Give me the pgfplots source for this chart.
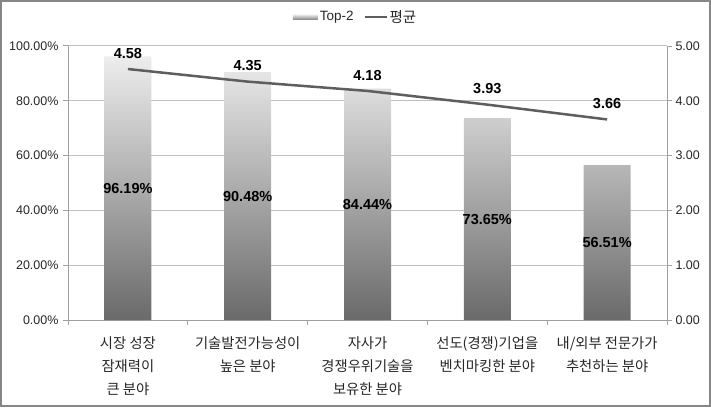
\documentclass[border=0pt]{standalone}
\usepackage{fontspec}
\setmainfont{Liberation Sans}
\newfontfamily\kr{Noto Sans CJK KR}
\usepackage{pgfplots}
\pgfplotsset{compat=1.18}
\definecolor{framegray}{HTML}{868686}
\definecolor{gridgray}{HTML}{C0C0C0}
\definecolor{axisgray}{HTML}{A0A0A0}
\definecolor{linegray}{HTML}{5E5E5E}
\definecolor{barbot}{HTML}{6A6A6A}
\definecolor{bartop}{HTML}{EDEDED}
\definecolor{txt}{HTML}{262626}
\begin{document}
\begin{tikzpicture}
\draw[framegray, line width=2pt] (1pt,1pt) rectangle (710pt,406pt);
\begin{axis}[
  at={(68pt,87pt)}, anchor=south west, scale only axis,
  width=599pt, height=274pt,
  xmin=-0.5, xmax=4.5, ymin=0, ymax=100,
  axis x line*=bottom, axis y line*=left,
  axis line style={axisgray, line width=1pt, -},
  ytick={0,20,...,100},
  /pgf/number format/assume math mode=true,
  yticklabel={\pgfmathprintnumber[fixed,fixed zerofill,precision=2]{\tick}\%},
  ymajorgrids, grid style={gridgray, line width=1pt},
  tick align=outside, major tick length=5pt,
  tick style={axisgray, line width=1pt},
  yticklabel style={font=\fontsize{12.5}{14}\selectfont, text=txt, xshift=-1pt},
  xtick={-0.5,0.5,...,4.5},
  xticklabels={},
  extra x ticks={0,...,4},
  extra x tick labels={{시장 성장\\잠재력이\\큰 분야},{기술발전가능성이\\높은 분야},{자사가\\경쟁우위기술을\\보유한 분야},{선도(경쟁)기업을\\벤치마킹한 분야},{내/외부 전문가가\\추천하는 분야}},
  extra x tick style={major tick length=0pt,
    xticklabel style={font=\kr\fontsize{14.3}{23}\selectfont, align=center, text=txt, anchor=north, yshift=-13pt}},
]
\addplot[ybar, bar width=47pt, bar shift=0pt, draw=none, bottom color=barbot, top color=bartop]
  coordinates {(0,96.19) (1,90.48) (2,84.44) (3,73.65) (4,56.51)};
\addplot[ybar, bar width=47pt, bar shift=0pt, draw=none, fill=none,
  visualization depends on=y \as \rawy,
  nodes near coords={\pgfmathprintnumber[fixed,fixed zerofill,precision=2]{\pgfplotspointmeta}\%},
  every node near coord/.append style={anchor=center, shift={(axis direction cs:0,-\rawy/2)}, font=\bfseries\fontsize{14.5}{16}\selectfont, text=black}]
  coordinates {(0,96.19) (1,90.48) (2,84.44) (3,73.65) (4,56.51)};
\end{axis}
\begin{axis}[
  at={(68pt,87pt)}, anchor=south west, scale only axis,
  width=599pt, height=274pt,
  xmin=-0.5, xmax=4.5, ymin=0, ymax=5,
  axis x line=none, axis y line*=right,
  axis line style={axisgray, line width=1pt, -},
  ytick={0,1,...,5},
  /pgf/number format/assume math mode=true,
  yticklabel={\pgfmathprintnumber[fixed,fixed zerofill,precision=2]{\tick}},
  tick align=outside, major tick length=5pt,
  tick style={axisgray, line width=1pt},
  yticklabel style={font=\fontsize{12.5}{14}\selectfont, text=txt},
  legend style={at={(0.48,1.106)}, anchor=center, draw=none, fill=none,
    legend columns=2, font=\fontsize{13.5}{15}\selectfont, text=txt,
    /tikz/every even column/.append style={column sep=8pt}},
]
\addlegendimage{legend image code/.code={\path[draw=none, bottom color=barbot!80, top color=bartop] (0pt,-2.5pt) rectangle (25pt,2.5pt);}}
\addlegendentry{Top-2}
\addlegendimage{legend image code/.code={\draw[linegray, line width=2pt] (0pt,0pt) -- (22pt,0pt);}}
\addlegendentry{\kr\fontsize{14.5}{15}\selectfont 평균}
\addplot[forget plot, linegray, line width=2.5pt, mark=none,
  nodes near coords={\pgfmathprintnumber[fixed,fixed zerofill,precision=2]{\pgfplotspointmeta}},
  every node near coord/.append style={anchor=south, yshift=6pt, font=\bfseries\fontsize{14.5}{16}\selectfont, text=black}]
  coordinates {(0,4.58) (1,4.35) (2,4.18) (3,3.93) (4,3.66)};
\end{axis}
\end{tikzpicture}
\end{document}
